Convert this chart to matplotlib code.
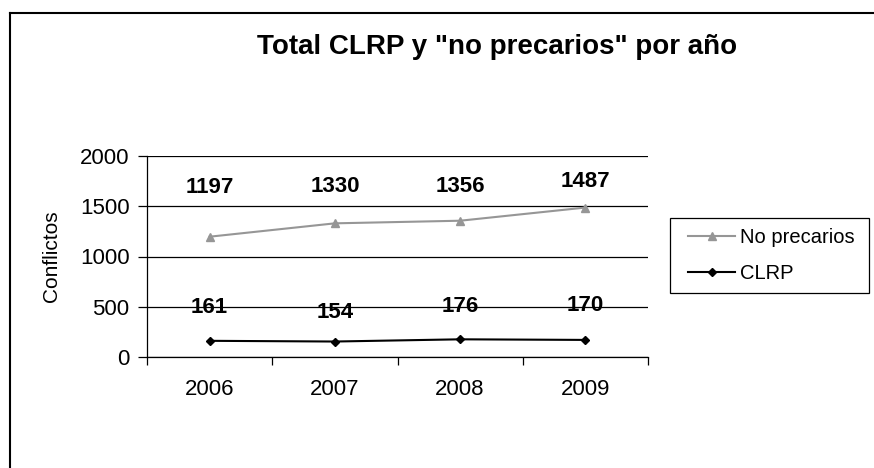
import matplotlib.pyplot as plt
from matplotlib.lines import Line2D
from matplotlib.patches import Rectangle

plt.rcParams['font.family'] = ['Liberation Sans', 'DejaVu Sans']

years = ["2006", "2007", "2008", "2009"]
no_precarios = [1197, 1330, 1356, 1487]
clrp = [161, 154, 176, 170]

# hand-placed label heights (as in the original chart)
no_prec_label_y = [1690, 1700, 1700, 1750]
clrp_label_y = [490, 440, 500, 515]

W, H = 874, 468
fig = plt.figure(figsize=(W / 100, H / 100), dpi=100)
ax = fig.add_axes([147 / W, 1 - 357 / H, (648 - 147) / W, (357 - 156) / H])

x = list(range(len(years)))
ax.plot(x, no_precarios, color="#969696", marker="^", markersize=6, lw=1.5,
        label="No precarios")
ax.plot(x, clrp, color="black", marker="D", markersize=4.5, lw=1.5,
        label="CLRP")

for i in x:
    ax.text(i, no_prec_label_y[i], str(no_precarios[i]), ha="center", va="center",
            fontsize=16, fontweight="bold")
    ax.text(i, clrp_label_y[i], str(clrp[i]), ha="center", va="center",
            fontsize=16, fontweight="bold")

ax.set_xlim(-0.5, len(years) - 0.5)
ax.set_ylim(0, 2000)
ax.set_yticks([0, 500, 1000, 1500, 2000])
ax.yaxis.grid(True, color="black", lw=0.9)
ax.set_axisbelow(True)
ax.tick_params(axis="y", length=6.5, width=0.9, labelsize=16, pad=6)

ax.set_xticks([i - 0.5 for i in range(len(years) + 1)])
ax.set_xticklabels([])
ax.tick_params(axis="x", which="major", length=5.5, width=0.9, direction="out")
ax.set_xticks(x, minor=True)
ax.set_xticklabels(years, minor=True, fontsize=16)
ax.tick_params(axis="x", which="minor", length=0, pad=16)

for s in ["top", "right"]:
    ax.spines[s].set_visible(False)
for s in ["left", "bottom"]:
    ax.spines[s].set_linewidth(0.9)

ax.set_ylabel("Conflictos", fontsize=15, labelpad=14)

fig.text(497 / W, 1 - 47 / H, 'Total CLRP y "no precarios" por año',
         ha="center", va="center", fontsize=20, fontweight="bold")

# legend box drawn separately so padding matches the original
fig.add_artist(Rectangle((670 / W, 1 - 293 / H), (869 - 670) / W, (293 - 218) / H,
                         transform=fig.transFigure, fill=False,
                         edgecolor="black", lw=0.9))
leg = fig.legend(loc="upper left", bbox_to_anchor=(688 / W, 1 - 228 / H),
                 fontsize=14.5, frameon=False, handlelength=2.35,
                 borderaxespad=0, handletextpad=0.25, labelspacing=0.85,
                 borderpad=0)

# outer chart border (left and top edges visible)
fig.add_artist(Line2D([9.5 / W, 9.5 / W], [0, 1 - 12.5 / H], color="black", lw=1.5,
                      transform=fig.transFigure))
fig.add_artist(Line2D([9.5 / W, 1], [1 - 12.5 / H, 1 - 12.5 / H], color="black", lw=1.5,
                      transform=fig.transFigure))

fig.savefig("out.png", dpi=100)
